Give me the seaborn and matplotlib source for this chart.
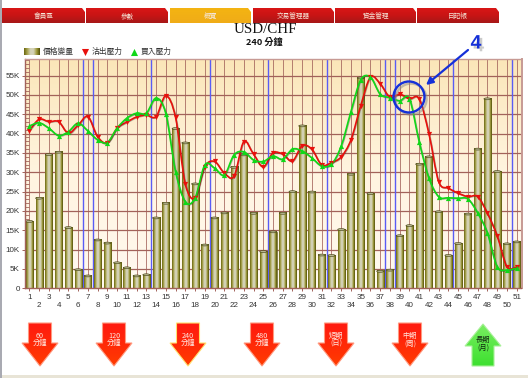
import matplotlib
matplotlib.use("Agg")
import matplotlib.pyplot as plt
import matplotlib.patheffects as pe
import numpy as np
import seaborn as sns
from matplotlib.colors import LinearSegmentedColormap
from matplotlib.patches import Circle, Ellipse, PathPatch, Polygon, Rectangle
from matplotlib.path import Path

# values, in thousands
categories = [str(i) for i in range(1, 52)]
volume = [17.3, 23.3, 34.6, 35.2, 15.7, 4.8, 3.2, 12.5, 11.7, 6.6,
          5.3, 3.2, 3.5, 18.2, 22.0, 41.3, 37.6, 27.0, 11.2, 18.2,
          19.5, 31.3, 34.5, 19.4, 9.5, 14.6, 19.4, 25.0, 42.0, 24.9,
          8.6, 8.5, 15.2, 29.5, 54.4, 24.5, 4.4, 4.7, 13.6, 16.2,
          32.1, 34.0, 19.8, 8.5, 11.6, 19.2, 36.0, 49.0, 30.2, 11.5, 12.0]
sell_pressure = [40.8, 43.7, 43.1, 43.1, 40.1, 42.2, 44.4, 39.2, 37.6, 41.4,
                 43.0, 44.3, 44.8, 44.4, 49.8, 44.2, 27.0, 23.4, 31.4, 32.8,
                 29.8, 29.0, 37.9, 34.7, 31.4, 35.0, 34.7, 32.9, 36.9, 35.9,
                 31.9, 32.5, 34.0, 38.4, 47.2, 54.6, 52.9, 49.4, 50.2, 49.0,
                 49.0, 40.0, 27.6, 25.9, 24.6, 23.7, 23.7, 19.4, 13.6, 5.6, 5.4]
buy_pressure = [42.0, 42.8, 41.4, 39.5, 40.5, 42.7, 40.7, 38.4, 37.7, 41.4,
                44.0, 45.3, 45.3, 49.2, 45.2, 30.2, 22.4, 23.3, 31.9, 31.1,
                29.3, 34.5, 35.3, 33.2, 32.8, 34.2, 33.4, 36.0, 35.5, 33.7,
                31.6, 32.1, 36.8, 45.7, 53.9, 54.6, 50.2, 49.3, 48.5, 49.0,
                37.9, 28.5, 23.7, 23.4, 23.3, 23.1, 19.5, 14.3, 5.6, 4.7, 5.2]
week_breaks = [6, 7, 13, 19, 25, 31, 37, 38, 44, 50]
y_ticks = list(range(0, 60, 5))
y_labels = ["0"] + [f"{v}K" for v in y_ticks[1:]]
tab_labels = ["會員區", "參數", "概覽", "交易管理器", "資金管理", "日記帳"]
legend_labels = ["價格變量", "沽出壓力", "買入壓力"]
arrow_labels = ["60\n分鐘", "120\n分鐘", "240\n分鐘", "480\n分鐘", "短期\n(日)", "中期\n(周)", "長期\n(月)"]

GRID = "#a2625a"
CJK = ["Noto Sans CJK TC", "DejaVu Sans"]

sns.set_style("white")
plt.rcParams["font.family"] = ["Liberation Sans"] + CJK

fig = plt.figure(figsize=(5.28, 3.78), dpi=100)
ax = fig.add_axes([24.5 / 528, 1 - 288.3 / 378, 497 / 528, 229.3 / 378])


def smooth_path(y):
    # bezier through the values, same look as the platform's spline lines
    y = np.asarray(y)
    x = np.arange(len(y))
    slope = np.gradient(y)
    verts = [(x[0], y[0])]
    codes = [Path.MOVETO]
    for i in range(len(y) - 1):
        verts += [(x[i] + 1 / 3, y[i] + slope[i] / 3),
                  (x[i + 1] - 1 / 3, y[i + 1] - slope[i + 1] / 3),
                  (x[i + 1], y[i + 1])]
        codes += [Path.CURVE4] * 3
    return Path(verts, codes)


# plot background
bg = LinearSegmentedColormap.from_list("bg", ["#fff9f0", "#fff4e0", "#fbe6b8"])
ax.imshow(np.linspace(1, 0, 100)[:, None], cmap=bg, aspect="auto", origin="upper",
          extent=(-0.5, 50.5, 0, 59.3), zorder=0)

# grid
for v in y_ticks[1:]:
    ax.axhline(v, color=GRID, lw=0.9, zorder=1)
for i in range(len(categories)):
    ax.axvline(i, color=GRID, lw=0.7, alpha=0.8, zorder=1)
for b in week_breaks:
    ax.axvline(b - 0.5, color="#5a5cf5", lw=1.0, zorder=1.2)

# bars
sns.barplot(x=categories, y=volume, color="#a8a450", width=0.72, ax=ax, zorder=2,
            edgecolor="#4c4a08", linewidth=0.4)
cyl = LinearSegmentedColormap.from_list(
    "cyl", ["#6c6812", "#a8a450", "#d4d2b8", "#d4d2b8", "#a09c3c", "#55520a"])
for p in ax.patches:
    x0, w, h = p.get_x(), p.get_width(), p.get_height()
    ax.imshow(np.linspace(0, 1, 32)[None, :], cmap=cyl, aspect="auto",
              extent=(x0, x0 + w, 0, h), zorder=2.1)
    ax.add_patch(Ellipse((x0 + w / 2, h), w, 0.5, fc="#b8b690", ec="#3c3a08", lw=0.4, zorder=2.2))

# pressure lines
for vals, col, mk in [(sell_pressure, "#e8100c", "v"), (buy_pressure, "#10d818", "^")]:
    ax.add_patch(PathPatch(smooth_path(vals), fc="none", ec=col, lw=1.2, zorder=3,
                           path_effects=[pe.SimpleLineShadow(offset=(0.4, -0.4), shadow_color="#222222", alpha=0.35),
                                         pe.Normal()]))
    sns.scatterplot(x=np.arange(len(vals)), y=vals, marker=mk, color=col, s=14, linewidth=0,
                    ax=ax, zorder=3.1, legend=False)

ax.set_xlim(-0.5, 50.5)
ax.set_ylim(0, 59.3)
ax.set_xlabel("")
ax.set_ylabel("")
ax.set_yticks(y_ticks)
ax.set_yticklabels(y_labels)
ax.set_yticks(range(0, 60), minor=True)
ax.set_xticks(range(len(categories)))
ax.set_xticklabels([c if i % 2 == 0 else "\n" + c for i, c in enumerate(categories)], linespacing=1.15)
ax.tick_params(axis="both", labelsize=5.8, labelcolor="#333333")
ax.tick_params(axis="x", which="major", bottom=True, length=2.2, width=0.7, color=GRID, pad=2)
ax.tick_params(axis="y", which="major", left=True, length=2.5, width=0.7, color=GRID, pad=1)
ax.tick_params(axis="y", which="minor", left=True, direction="in", length=2.6, width=0.6, color=GRID)
for side, spine in ax.spines.items():
    spine.set_color(GRID)
    spine.set_linewidth(1.0)
ax.spines["right"].set_color("#c79a94")
ax.spines["right"].set_linewidth(1.4)
ax.spines["top"].set_color("#c79a94")

# page furniture in pixel coordinates
ov = fig.add_axes([0, 0, 1, 1], zorder=5)
ov.patch.set_alpha(0)
ov.axis("off")
ov.add_patch(Rectangle((0, 0), 2, 378, fc="#a9aab2", ec="none"))
ov.add_patch(Rectangle((2, 374.5), 526, 3.5, fc="#e8e4d6", ec="none"))

red_tab = LinearSegmentedColormap.from_list("t", ["#d81616", "#c81414", "#a81818"])
gold_tab = LinearSegmentedColormap.from_list("g", ["#f4b412", "#f0ac18"])
tab_edges = [(2, 85), (86, 168), (170, 251), (253, 334), (335, 416), (417, 499)]
for k, ((x0, x1), lab) in enumerate(zip(tab_edges, tab_labels)):
    poly = Polygon([(x0, 8), (x1 - 3, 8), (x1, 12), (x1, 23), (x0, 23)], fc="none", ec="none")
    ov.add_patch(poly)
    im = ov.imshow(np.linspace(0, 1, 16)[:, None], cmap=gold_tab if k == 2 else red_tab, aspect="auto",
                   origin="upper", extent=(x0, x1, 23, 8), zorder=1)
    im.set_clip_path(poly)
    ov.text((x0 + x1) / 2, 16, lab, color="#f5e6d8", fontsize=4.8, family=CJK, ha="center", va="center", zorder=2)

ov.text(265, 29.5, "USD/CHF", fontsize=10.8, family="Liberation Serif", ha="center", va="center", color="#111111")
ov.text(264.5, 42, "240 分鐘", fontsize=6.6, fontweight="bold", family=CJK, ha="center", va="center", color="#111111")

# legend
ov.imshow(np.linspace(0, 1, 32)[None, :], cmap=cyl, aspect="auto", extent=(24, 40, 55, 48.5), zorder=1)
ov.text(42.5, 52, legend_labels[0], fontsize=5.6, family=CJK, va="center", color="#333333")
ov.scatter([84.5], [52], marker="v", s=26, color="#e8100c", linewidths=0)
ov.text(91.5, 52, legend_labels[1], fontsize=5.6, family=CJK, va="center", color="#333333")
ov.scatter([133.5], [52], marker="^", s=26, color="#10d818", linewidths=0)
ov.text(140.5, 52, legend_labels[2], fontsize=5.6, family=CJK, va="center", color="#333333")

# timeframe arrows
down_cmap = LinearSegmentedColormap.from_list("d", ["#ff1a10", "#ff2a08", "#ff3c00"])
up_cmap = LinearSegmentedColormap.from_list("u", ["#78ee60", "#3ee030"])
arrow_x = [40, 114, 188, 262, 336, 410, 483]
for cx, lab in zip(arrow_x[:-1], arrow_labels[:-1]):
    edge = "#ffe070" if cx == 188 else "#ff9a80"
    poly = Polygon([(cx - 11.5, 323), (cx + 11.5, 323), (cx + 11.5, 343), (cx + 18, 343),
                    (cx, 366), (cx - 18, 343), (cx - 11.5, 343)], fc="none", ec=edge, lw=0.8, zorder=2)
    ov.add_patch(poly)
    im = ov.imshow(np.linspace(0, 1, 32)[:, None], cmap=down_cmap, aspect="auto", origin="upper",
                   extent=(cx - 18, cx + 18, 366, 323), zorder=1)
    im.set_clip_path(poly)
    ov.text(cx, 339.5, lab, color="#ffe8e0", fontsize=5.2, family=CJK, ha="center", va="center",
            linespacing=0.95, zorder=3)
cx = arrow_x[-1]
poly = Polygon([(cx, 324), (cx + 18, 346), (cx + 11, 346), (cx + 11, 366), (cx - 11, 366),
                (cx - 11, 346), (cx - 18, 346)], fc="none", ec="#a8f098", lw=0.8, zorder=2)
ov.add_patch(poly)
im = ov.imshow(np.linspace(0, 1, 32)[:, None], cmap=up_cmap, aspect="auto", origin="upper",
               extent=(cx - 18, cx + 18, 366, 324), zorder=1)
im.set_clip_path(poly)
ov.text(cx, 344, arrow_labels[-1], color="#102010", fontsize=5.2, family=CJK, ha="center", va="center",
        linespacing=0.95, zorder=3)

# the hand drawn "4" callout
blue = "#1530d8"
shadow = [pe.SimpleLineShadow(offset=(1.5, -1.5), shadow_color="#888888", alpha=0.5), pe.Normal()]
ov.add_patch(Circle((409, 97), 15.5, fc="none", ec=blue, lw=1.7, zorder=6, path_effects=shadow))
ov.annotate("", xy=(426, 85), xytext=(468, 50), zorder=6,
            arrowprops=dict(arrowstyle="-|>", color=blue, lw=1.6, mutation_scale=10, shrinkA=0, shrinkB=0))
ov.text(476, 44, "4", color=blue, fontsize=14, fontweight="bold", family="Liberation Sans",
        ha="center", va="center", zorder=6,
        path_effects=[pe.SimplePatchShadow(offset=(2, -2), shadow_rgbFace="#999999", alpha=0.5), pe.Normal()])

ov.set_xlim(0, 528)
ov.set_ylim(378, 0)

fig.savefig("out.png", dpi=100, facecolor="white")
